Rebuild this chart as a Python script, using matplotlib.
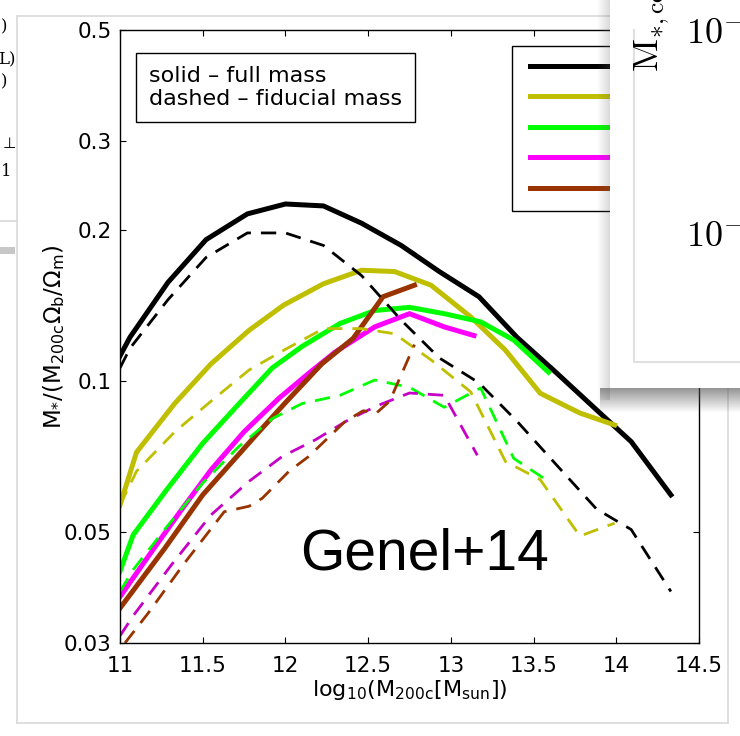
import numpy as np
import matplotlib.pyplot as plt
from matplotlib.lines import Line2D
from matplotlib.legend_handler import HandlerLine2D
from matplotlib.patches import Rectangle

# ---- data ----
black_x = [11.0, 11.06, 11.29, 11.52, 11.77, 12.0, 12.23, 12.46, 12.70, 12.93, 13.17, 13.40, 13.62, 13.88, 14.09, 14.33]
black_full = [0.112, 0.122, 0.157, 0.191, 0.215, 0.225, 0.223, 0.206, 0.186, 0.165, 0.147, 0.122, 0.105, 0.0875, 0.0756, 0.0592]
black_fid = [0.106, 0.116, 0.145, 0.176, 0.197, 0.197, 0.186, 0.162, 0.132, 0.111, 0.099, 0.083, 0.069, 0.0555, 0.0505, 0.038]

yellow_x = [11.0, 11.10, 11.33, 11.55, 11.78, 11.99, 12.23, 12.46, 12.66, 12.88, 13.12, 13.33, 13.54, 13.78, 13.99]
yellow_full = [0.0565, 0.072, 0.090, 0.108, 0.126, 0.1415, 0.156, 0.166, 0.165, 0.155, 0.134, 0.115, 0.0944, 0.0862, 0.0816]
yellow_fid = [0.0565, 0.066, 0.079, 0.091, 0.105, 0.115, 0.127, 0.127, 0.124, 0.110, 0.095, 0.069, 0.0635, 0.049, 0.052]

green_x = [11.0, 11.08, 11.28, 11.50, 11.72, 11.92, 12.10, 12.33, 12.54, 12.75, 12.96, 13.18, 13.38, 13.59]
green_full = [0.0417, 0.0493, 0.0605, 0.075, 0.090, 0.106, 0.117, 0.130, 0.138, 0.140, 0.136, 0.131, 0.1205, 0.104]
green_fid = [0.038, 0.042, 0.051, 0.0625, 0.074, 0.084, 0.090, 0.0935, 0.1003, 0.097, 0.0885, 0.0967, 0.070, 0.063]

magenta_x = [11.0, 11.17, 11.37, 11.55, 11.75, 11.96, 12.14, 12.30, 12.54, 12.75, 12.96, 13.14]
magenta_full = [0.0371, 0.0446, 0.0552, 0.0664, 0.0791, 0.0922, 0.1034, 0.114, 0.128, 0.136, 0.128, 0.123]
magenta_fid_x = [11.0, 11.08, 11.31, 11.55, 11.78, 11.98, 12.18, 12.38, 12.55, 12.75, 12.96, 13.16]
magenta_fid = [0.031, 0.034, 0.0429, 0.054, 0.063, 0.0706, 0.0762, 0.0835, 0.089, 0.0945, 0.0935, 0.071]

brown_x = [11.0, 11.27, 11.50, 11.84, 12.0, 12.22, 12.41, 12.59, 12.78]
brown_full = [0.0352, 0.0463, 0.0592, 0.0791, 0.0904, 0.108, 0.1215, 0.147, 0.155]
brown_fid_x = [11.03, 11.17, 11.39, 11.63, 11.78, 11.86, 12.02, 12.14, 12.36, 12.47, 12.55, 12.63, 12.78]
brown_fid = [0.030, 0.0344, 0.0433, 0.0548, 0.0562, 0.0583, 0.0659, 0.0706, 0.0829, 0.0871, 0.0862, 0.091, 0.118]

legend_labels = ["z=0", "z=1", "z=2", "z=3", "z=4"]
xticks = [11, 11.5, 12, 12.5, 13, 13.5, 14, 14.5]
xtick_labels = ["11", "11.5", "12", "12.5", "13", "13.5", "14", "14.5"]
yticks = [0.03, 0.05, 0.1, 0.2, 0.3, 0.5]
ytick_labels = ["0.03", "0.05", "0.1", "0.2", "0.3", "0.5"]

c_black = "black"
c_yellow = (0.75, 0.75, 0.0)
c_green = (0.0, 1.0, 0.0)
c_magenta = (1.0, 0.0, 1.0)
c_magenta_d = (0.78, 0.0, 0.78)
c_brown = (0.6, 0.2, 0.0)

W, H = 740, 736


def fx(px):
    return px / W


def fy(py):
    return 1 - py / H


fig = plt.figure(figsize=(W / 100, H / 100), dpi=100)
ax = fig.add_axes([fx(120), fy(643), 579 / W, 613 / H])

lw_s = 3.6
lw_d = 2.0
dash = (5.5, 3.6)

solids = [(black_x, black_full, c_black), (yellow_x, yellow_full, c_yellow),
          (green_x, green_full, c_green), (magenta_x, magenta_full, c_magenta),
          (brown_x, brown_full, c_brown)]
for x, y, c in solids:
    ax.plot(x, y, color=c, lw=lw_s, solid_joinstyle="miter")

dashed = [(black_x, black_fid, c_black), (yellow_x, yellow_fid, c_yellow),
          (green_x, green_fid, c_green), (magenta_fid_x, magenta_fid, c_magenta_d),
          (brown_fid_x, brown_fid, c_brown)]
for x, y, c in dashed:
    ax.plot(x, y, color=c, lw=lw_d, dashes=dash)

ax.set_yscale("log")
ax.set_xlim(11, 14.5)
ax.set_ylim(0.03, 0.5)
ax.set_xticks(xticks)
ax.set_xticklabels(xtick_labels)
ax.set_yticks(yticks)
ax.set_yticklabels(ytick_labels)
ax.yaxis.set_minor_locator(plt.NullLocator())
ax.tick_params(direction="in", length=4.5, width=0.8, top=True, right=True,
               labelsize=15.5)
ax.tick_params(axis="x", pad=9)
ax.tick_params(axis="y", pad=6)
for s in ax.spines.values():
    s.set_linewidth(1.0)

ax.set_xlabel(r"$\mathrm{log_{10}(M_{200c}[M_{sun}])}$", fontsize=16, labelpad=2)
ax.set_ylabel(r"$\mathrm{M_{*}/(M_{200c}\Omega_b/\Omega_m)}$", fontsize=16.5)
ax.yaxis.set_label_coords(-0.092, 0.5)

# text box
fig.text(fx(149), fy(87.5), "solid \u2013 full mass\ndashed \u2013 fiducial mass",
         fontsize=16, ha="left", va="center",
         bbox=dict(boxstyle="square,pad=0.6", fc="white", ec="black", lw=1.0))

# legend (right part hidden by the overlaid panel)
handles = [Line2D([], [], color=c, lw=lw_s) for _, _, c in solids]
ax.legend(handles, legend_labels, loc="upper left",
          bbox_to_anchor=(fx(512), fy(46)), bbox_transform=fig.transFigure,
          borderaxespad=0, fontsize=16, fancybox=False, framealpha=1,
          edgecolor="black", borderpad=0.52, labelspacing=0.47,
          handlelength=5, handler_map={Line2D: HandlerLine2D(xpad=0.3)})
ax.get_legend().get_frame().set_linewidth(1.0)

fig.text(fx(300), fy(570), "Genel+14", fontsize=41, family="Liberation Sans",
         ha="left", va="baseline")

# ---- surrounding screenshot fragments ----
gray = "#d9d9d9"
for xs, ys in [([17, 17], [16, 723]), ([17, 610], [16, 16]),
               ([728, 728], [388, 723]), ([17, 728], [723, 723]),
               ([0, 17], [221, 221])]:
    fig.add_artist(Line2D([fx(v) for v in xs], [fy(v) for v in ys],
                          transform=fig.transFigure, color=gray, lw=1.2, zorder=3))
for txt, py in [(")", 27), ("L)", 60), (")", 82), ("1", 172)]:
    fig.text(fx(-2) if txt == "L)" else fx(1), fy(py), txt, family="DejaVu Serif",
             fontsize=12, ha="left", va="center")
fig.text(fx(3), fy(143), "\u22a5", family="DejaVu Sans", fontsize=11,
         ha="left", va="center")
fig.add_artist(Rectangle((0, fy(254)), fx(15), 7 / H, transform=fig.transFigure,
                         fc="#b0b0b0", ec="none", alpha=0.7, zorder=3))

# overlaid panel with drop shadow
for i in range(12):
    a = 0.05 + 0.03 * i
    fig.add_artist(Rectangle((fx(598 + i), fy(400)), 1 / W, 400 / H,
                             transform=fig.transFigure, fc="#606060", ec="none",
                             alpha=a * 0.6, zorder=9))
for i in range(24):
    a = 0.6 - 0.025 * i
    fig.add_artist(Rectangle((fx(600), fy(389 + i)), 140 / W, 1 / H,
                             transform=fig.transFigure, fc="#505050", ec="none",
                             alpha=a, zorder=9))
fig.add_artist(Rectangle((fx(610), fy(388)), 130 / W, 388 / H,
                         transform=fig.transFigure, fc="white", ec="none", zorder=10))
fig.add_artist(Line2D([fx(634), fx(634), fx(740)], [fy(30), fy(362), fy(362)],
                      transform=fig.transFigure, color="#e0e0e0", lw=1.5, zorder=11))
fig.text(fx(652), fy(72), r"$\mathrm{M}_{*,\mathrm{cen}}$", fontsize=26,
         math_fontfamily="cm", rotation=90, ha="center", va="bottom", zorder=12)
for py in [43, 246]:
    fig.text(fx(686), fy(py), r"$10^{-}$", fontsize=26, math_fontfamily="cm",
             ha="left", va="baseline", zorder=12)

fig.savefig("out.png", dpi=100)
